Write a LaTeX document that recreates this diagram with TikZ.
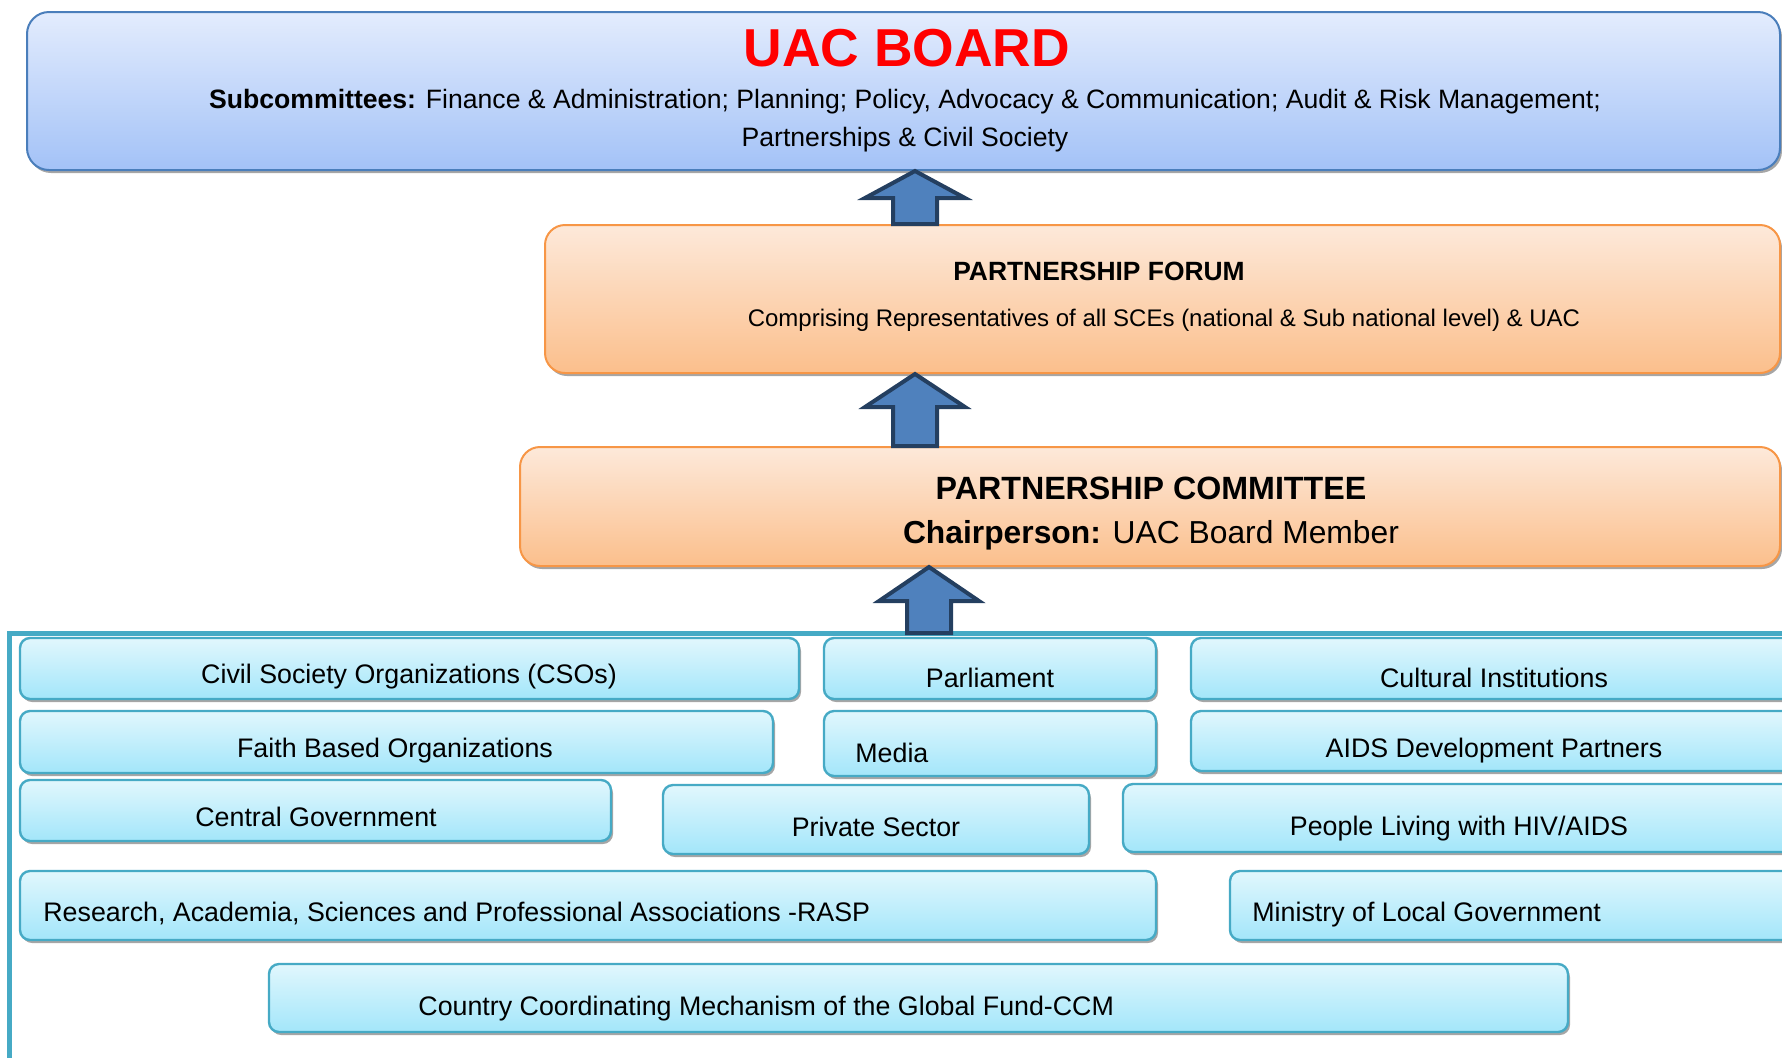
\documentclass[tikz,border=0pt]{standalone}
\usepackage{fontspec}
\setmainfont{Liberation Sans}
\usetikzlibrary{calc,fit,shadows}

\definecolor{uactop}{HTML}{E3ECFD}
\definecolor{uacbot}{HTML}{A3C2F7}
\definecolor{uacline}{HTML}{4A7EBB}
\definecolor{uacred}{HTML}{FF0000}
\definecolor{fortop}{HTML}{FDE9DA}
\definecolor{forbot}{HTML}{FBBF8C}
\definecolor{forline}{HTML}{F79646}
\definecolor{cyantop}{HTML}{E1F7FD}
\definecolor{cyanbot}{HTML}{A3E6FA}
\definecolor{tealline}{HTML}{46AAC5}
\definecolor{arrowfill}{HTML}{4F81BD}
\definecolor{arrowline}{HTML}{243F60}
\definecolor{shadowgray}{HTML}{A6A6A6}

\tikzset{
  boxshadow/.style={drop shadow={shadow xshift=1pt, shadow yshift=-1.5pt, fill=shadowgray, opacity=1}},
  boardbox/.style={rounded corners=11pt, draw=uacline, line width=1pt, top color=uactop, bottom color=uacbot, inner sep=0pt, boxshadow},
  forumbox/.style={rounded corners=10pt, draw=forline, line width=1pt, top color=fortop, bottom color=forbot, inner sep=0pt, boxshadow},
  groupbox/.style={rounded corners=5pt, draw=tealline, line width=1.2pt, top color=cyantop, bottom color=cyanbot, inner sep=0pt, boxshadow},
  grouptext/.style={font=\fontsize{13.4}{16}\selectfont, inner sep=0pt, text height=12.9pt, text depth=2.7pt},
  upblock/.style={fill=arrowfill, draw=arrowline, line width=2pt},
  frameline/.style={draw=tealline, line width=2.5pt}
}

\begin{document}
\begin{tikzpicture}[x=0.5pt, y=-0.5pt]
  \useasboundingbox (0,0) rectangle (1782,1057);
  \clip (0,0) rectangle (1782,1057);

  % board, forum and committee
  \node[boardbox, fit={(27,12) (1780,170)}] (uac) {};
  \node[font=\fontsize{26.7}{30}\selectfont\bfseries, text=uacred] (uactitle) at (907,48) {UAC BOARD};
  \node[align=center, font=\fontsize{13.3}{19}\selectfont] (subs) at (905,120.5)
    {\textbf{Subcommittees:} Finance \& Administration; Planning; Policy, Advocacy \& Communication; Audit \& Risk Management;\\
     Partnerships \& Civil Society};

  \node[forumbox, fit={(545,225) (1780,373)}] (pf) {};
  \node[font=\fontsize{13.2}{16}\selectfont\bfseries] (pftitle) at (1099,271) {PARTNERSHIP FORUM};
  \node[font=\fontsize{12}{14}\selectfont] (pfsub) at (1164,320.5)
    {Comprising Representatives of all SCEs (national \& Sub national level) \& UAC};

  \node[forumbox, fit={(520,447) (1780,566)}] (pc) {};
  \node[font=\fontsize{16.1}{19}\selectfont\bfseries] (pctitle) at (1151,488) {PARTNERSHIP COMMITTEE};
  \node[font=\fontsize{15.9}{19}\selectfont] (pcchair) at (1151,535) {\textbf{Chairperson:} UAC Board Member};

  % stakeholder groups
  \coordinate (frame) at (9,633);
  \draw[frameline] (9,1070) -- (frame) -- (1800,633);

  \node[groupbox, fit={(20,638) (799,699)}] (cso) {};
  \node[groupbox, fit={(824,638) (1156,699)}] (parl) {};
  \node[groupbox, fit={(1191,638) (1800,699)}] (cult) {};
  \node[groupbox, fit={(20,711) (773,773)}] (fbo) {};
  \node[groupbox, fit={(824,711) (1156,776)}] (media) {};
  \node[groupbox, fit={(1191,711) (1800,771)}] (aids) {};
  \node[groupbox, fit={(20,780) (611,841)}] (cgov) {};
  \node[groupbox, fit={(663,785) (1089,854)}] (priv) {};
  \node[groupbox, fit={(1123,784) (1800,852)}] (plhiv) {};
  \node[groupbox, fit={(20,871) (1156,940)}] (rasp) {};
  \node[groupbox, fit={(1230,871) (1800,940)}] (molg) {};
  \node[groupbox, fit={(269,964) (1568,1032)}] (ccm) {};

  \node[grouptext] (csotxt) at (409,673) {Civil Society Organizations (CSOs)};
  \node[grouptext] (parltxt) at (990,677) {Parliament};
  \node[grouptext] (culttxt) at (1494,677) {Cultural Institutions};
  \node[grouptext] (fbotxt) at (395,747) {Faith Based Organizations};
  \node[grouptext, anchor=west] (mediatxt) at (855,752) {Media};
  \node[grouptext] (aidstxt) at (1494,747) {AIDS Development Partners};
  \node[grouptext] (cgovtxt) at (316,816) {Central Government};
  \node[grouptext] (privtxt) at (876,826) {Private Sector};
  \node[grouptext] (plhivtxt) at (1459,825) {People Living with HIV/AIDS};
  \node[grouptext, anchor=west] (rasptxt) at (43,911) {Research, Academia, Sciences and Professional Associations -RASP};
  \node[grouptext, anchor=west] (molgtxt) at (1252,911) {Ministry of Local Government};
  \node[grouptext, anchor=west] (ccmtxt) at (418,1005) {Country Coordinating Mechanism of the Global Fund-CCM};

  % block arrows going up
  \coordinate (t1) at ([xshift=-123.75pt]pf.north);
  \coordinate (h1) at (uac.south -| t1);
  \coordinate (t2) at ([xshift=-117.5pt]pc.north);
  \coordinate (h2) at (pf.south -| t2);
  \coordinate (h3) at ([xshift=-110.5pt]pc.south);
  \coordinate (t3) at (h3 |- frame);
  \foreach \tail/\tip/\hl in {t1/h1/13.5pt, t2/h2/16.5pt, t3/h3/17pt}
    \draw[upblock] let \p1=(\tail), \p2=(\tip) in
      (\x1-11pt,\y1) -- (\x1-11pt,\y2-\hl) -- (\x1-25pt,\y2-\hl) -- (\x1,\y2)
      -- (\x1+25pt,\y2-\hl) -- (\x1+11pt,\y2-\hl) -- (\x1+11pt,\y1) -- cycle;
\end{tikzpicture}
\end{document}
